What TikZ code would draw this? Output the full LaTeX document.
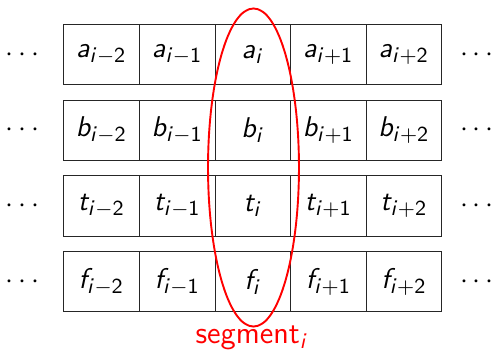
\documentclass[tikz,border=0pt]{standalone}
\usetikzlibrary{shapes.geometric}
\renewcommand\familydefault{\sfdefault}
\DeclareMathAlphabet{\mathsfit}{OT1}{cmss}{m}{sl}
\DeclareMathAlphabet{\mathsfup}{OT1}{cmss}{m}{n}
\newcommand\cellv[2]{$\mathsfit{#1}_{\mathsfit{i}#2}$}
\begin{document}
\begin{tikzpicture}[x=0.42pt,y=-0.42pt,
  txt/.style={font=\fontsize{13}{15}\selectfont},
  cell/.style={txt,draw=black!85,line width=0.45pt,minimum width=31.8pt,minimum height=25.4pt,inner sep=0pt,anchor=center},
  dots/.style={font=\fontsize{12}{14}\selectfont},
  seg/.style={draw=red,line width=0.8pt}]
\useasboundingbox (0,0) rectangle (492,351);
\foreach \r/\y in {a/54.7,b/130.4,t/205.9,f/281.7}{
  \node[cell] (\r m2) at (101.3,\y) {\cellv{\r}{-\mathsfup{2}}};
  \node[cell] (\r m1) at (177.2,\y) {\cellv{\r}{-\mathsfup{1}}};
  \node[cell] (\r 0) at (252.9,\y) {\cellv{\r}{}};
  \node[cell] (\r p1) at (328.4,\y) {\cellv{\r}{+\mathsfup{1}}};
  \node[cell] (\r p2) at (403.9,\y) {\cellv{\r}{+\mathsfup{2}}};
  \node[dots] (\r L) at (22.5,\y) {$\cdots$};
  \node[dots] (\r R) at (477,\y) {$\cdots$};
}
\node[seg,ellipse,minimum width=38.2pt,minimum height=133.6pt,inner sep=0pt] (ell) at (253.5,167.5) {};
\node[txt,text=red,inner sep=0pt] (lab) at (252,338) {segment$_{\mathsfit{i}}$};
\end{tikzpicture}
\end{document}
